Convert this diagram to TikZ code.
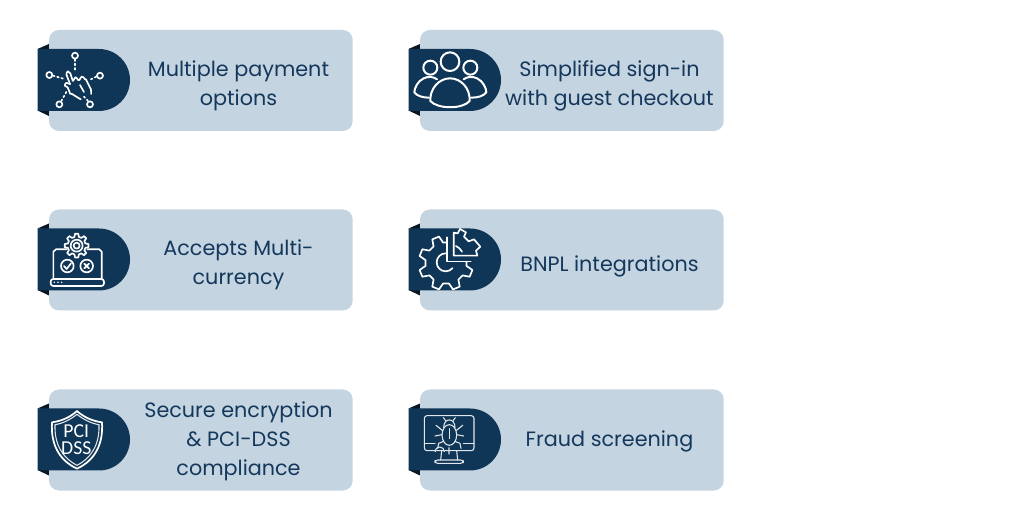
\documentclass[tikz,border=0pt]{standalone}
\usepackage{fontspec}
\setmainfont{Poppins}
\newfontfamily\iconfont{Carlito}
\definecolor{navy}{HTML}{0F3557}
\definecolor{cardblue}{HTML}{C5D4E1}
\definecolor{inkblue}{HTML}{14385C}
\definecolor{flapdark}{HTML}{0A1622}
\tikzset{
  x=.75pt,y=-.75pt,
  card/.style={fill=cardblue,rounded corners=7.5pt,draw=none},
  tab/.style={fill=navy,draw=none},
  flap/.style={fill=flapdark,draw=none},
  label/.style={text=inkblue,font=\fontsize{15.55pt}{21.75pt}\selectfont,align=center,inner sep=0pt},
  ico/.style={draw=white,line width=1.25pt,line join=round,line cap=round,fill=none},
  icothin/.style={draw=white!88!navy,line width=.8pt,line join=round,line cap=round,fill=none},
  icotext/.style={text=white,inner sep=0pt,align=center,font=\iconfont\fontsize{14.8pt}{12.6pt}\selectfont},
}
\newcommand{\cardat}[5]{% x, y, text y, name, text
  \begin{scope}[shift={(#1,#2)}]
    \path[flap] (37.5,49) -- (49,44) -- (49,50) -- cycle;
    \path[flap] (37.5,110.5) -- (49,116) -- (49,110) -- cycle;
    \path[card] (49,30) rectangle (352.7,131);
    \path[tab] (37.5,49) -- (99,49) arc[start angle=90,end angle=-90,radius=23.25pt] -- (37.5,111) -- cycle;
    \node[label] (#4) at (238.5,#3) {#5};
  \end{scope}}
\newcommand{\gearshape}[6]{% cx cy r-in r-out teeth style
  \draw[#6] ({#1+#3*cos(-0.32*360/#5)},{#2+#3*sin(-0.32*360/#5)})
  \foreach \k in {1,...,#5}{
    -- ({#1+#4*cos((\k-1-.17)*360/#5)},{#2+#4*sin((\k-1-.17)*360/#5)})
    -- ({#1+#4*cos((\k-1+.17)*360/#5)},{#2+#4*sin((\k-1+.17)*360/#5)})
    -- ({#1+#3*cos((\k-1+.32)*360/#5)},{#2+#3*sin((\k-1+.32)*360/#5)})
    -- ({#1+#3*cos((\k-.32)*360/#5)},{#2+#3*sin((\k-.32)*360/#5)})
  } -- cycle;}
\begin{document}
\begin{tikzpicture}
\useasboundingbox[fill=white] (0,0) rectangle (1024,523);

\cardat{0}{0}{85.5}{t1}{Multiple payment\\options}
\cardat{371}{0}{86}{t2}{Simplified sign-in\\with guest checkout}
\cardat{0}{179.5}{85.5}{t3}{Accepts Multi-\\currency}
\cardat{371}{179.5}{86.5}{t4}{BNPL integrations}
\cardat{0}{359.5}{82}{t5}{Secure encryption\\\& PCI-DSS\\compliance}
\cardat{371}{359.5}{82}{t6}{Fraud screening}

% icon 1: hand with nodes
\begin{scope}[shift={(30,20)},x=.25pt,y=-.25pt]
  \foreach \p in {(135,107),(58,165),(210,167),(88,253),(180,253)}
    \draw[ico] \p circle[radius=9];
  \draw[ico,dotted] (135,118) -- (135,150);
  \draw[ico,dotted] (69,167) -- (100,176);
  \draw[ico,dotted] (199,170) -- (182,178);
  \draw[ico,dotted] (94,243) -- (110,214);
  \draw[ico,dotted] (174,243) -- (162,230);
  \draw[ico] (120,192) -- (109,163) to[out=-90,in=180] (114,154) to[out=0,in=-110] (121,160) -- (128,182)
    to[out=-60,in=200] (136,172) to[out=20,in=-110] (146,180)
    to[out=-60,in=190] (156,170) to[out=10,in=-110] (168,178)
    -- (181,205) to[out=70,in=-80] (183,222);
  \draw[ico] (120,192) to[out=170,in=-30] (110,189) to[out=150,in=190] (106,198) to[out=10,in=-140] (126,222) -- (152,238);
  \draw[ico] (150,195) -- (162,216);
\end{scope}

% icon 2: people
\begin{scope}[shift={(401,20)},x=.25pt,y=-.25pt]
  \draw[ico,line width=1.5pt] (147,125) circle[radius=28];
  \draw[ico,line width=1.5pt] (88,143) circle[radius=21];
  \draw[ico,line width=1.5pt] (208,143) circle[radius=21];
  \draw[ico,line width=1.5pt] (88,243) .. controls (86,205) and (115,175) .. (147,175)
     .. controls (180,175) and (208,205) .. (206,243) .. controls (185,268) and (110,268) .. (88,243) -- cycle;
  \draw[ico,line width=1.5pt] (108,178) .. controls (98,170) and (82,168) .. (68,175)
     .. controls (50,183) and (40,205) .. (40,217) .. controls (48,228) and (65,233) .. (84,233);
  \draw[ico,line width=1.5pt] (188,178) .. controls (198,170) and (214,168) .. (228,175)
     .. controls (246,183) and (256,205) .. (256,217) .. controls (248,228) and (231,233) .. (210,233);
\end{scope}

% icon 3: laptop + gear
\begin{scope}[shift={(30,200)},x=.25pt,y=-.25pt]
  \draw[ico] (110,148) -- (78,148) -- (70,155) -- (70,237);
  \draw[ico] (172,148) -- (208,148) -- (215,155) -- (215,237);
  \draw[ico,rounded corners=2pt] (62,237) rectangle (222,258);
  \gearshape{140}{137}{27}{36}{8}{ico}
  \draw[ico] (140,137) circle[radius=18];
  \draw[ico] (140,137) circle[radius=9];
  \draw[ico] (112,198) circle[radius=19];
  \draw[ico] (170,198) circle[radius=19];
  \draw[ico] (102,198) -- (110,207) -- (123,190);
  \draw[ico] (163,191) -- (177,205) (177,191) -- (163,205);
  \foreach \x in {73,84,95} \fill[white] (\x,247) circle[radius=2.5];
\end{scope}

% icon 4: gears
\begin{scope}[shift={(400,200)},x=.25pt,y=-.25pt]
  \begin{scope}[rotate around={22.5:(138,189)}]
    \gearshape{138}{189}{62}{82}{8}{ico}
  \end{scope}
  \path[fill=navy] (141,95) rectangle (245,185);
  \draw[ico] (141,112) -- (141,185) -- (212,185);
  \draw[ico] (137,160) arc[start angle=-90,end angle=-320,radius=27];
  \draw[ico] (161,98) -- (173,100) -- (180,87) -- (198,97) -- (192,110) -- (206,124) -- (222,118) -- (241,140) -- (228,152) -- (232,167) -- (161,167) -- cycle;
  \draw[ico] (168,138) to[bend left=15] (186,155);
\end{scope}

% icon 5: shield
\begin{scope}[shift={(30,380)},x=.25pt,y=-.25pt]
  \draw[ico,line width=1.3pt] (141,93) .. controls (120,112) and (95,123) .. (66,127)
     .. controls (62,190) and (85,240) .. (141,266)
     .. controls (197,240) and (220,190) .. (216,127)
     .. controls (187,123) and (162,112) .. (141,93) -- cycle;
  \draw[icothin] (141,103) .. controls (122,118) and (100,130) .. (75,134)
     .. controls (73,190) and (95,232) .. (141,256)
     .. controls (187,232) and (209,190) .. (207,134)
     .. controls (182,130) and (160,118) .. (141,103) -- cycle;
  \node[icotext] (pci) at (139,180) {PCI\\DSS};
\end{scope}

% icon 6: monitor + bug
\begin{scope}[shift={(400,380)},x=.25pt,y=-.25pt]
  \draw[icothin,rounded corners=2pt] (73,107) rectangle (222,212);
  \draw[icothin] (73,190) -- (105,190) (190,190) -- (222,190);
  \draw[icothin] (125,212) -- (122,240) (170,212) -- (173,240);
  \draw[icothin,rounded corners=2pt] (105,240) rectangle (190,250);
  \draw[icothin] (147,203) -- (147,222) (133,215) arc[start angle=180,end angle=0,radius=-14];
  \draw[icothin] (148,165) ellipse[x radius=22,y radius=31];
  \draw[icothin] (131,143) .. controls (131,112) and (165,112) .. (165,143);
  \draw[icothin] (148,146) -- (148,176);
  \draw[icothin] (137,122) -- (130,113) (159,122) -- (166,113);
  \draw[icothin] (128,152) -- (108,136) (168,152) -- (188,136);
  \draw[icothin] (126,164) -- (105,168) (170,164) -- (191,168);
  \draw[icothin] (131,184) -- (116,190) -- (113,205) (165,184) -- (180,190) -- (183,205);
\end{scope}
\end{tikzpicture}
\end{document}
